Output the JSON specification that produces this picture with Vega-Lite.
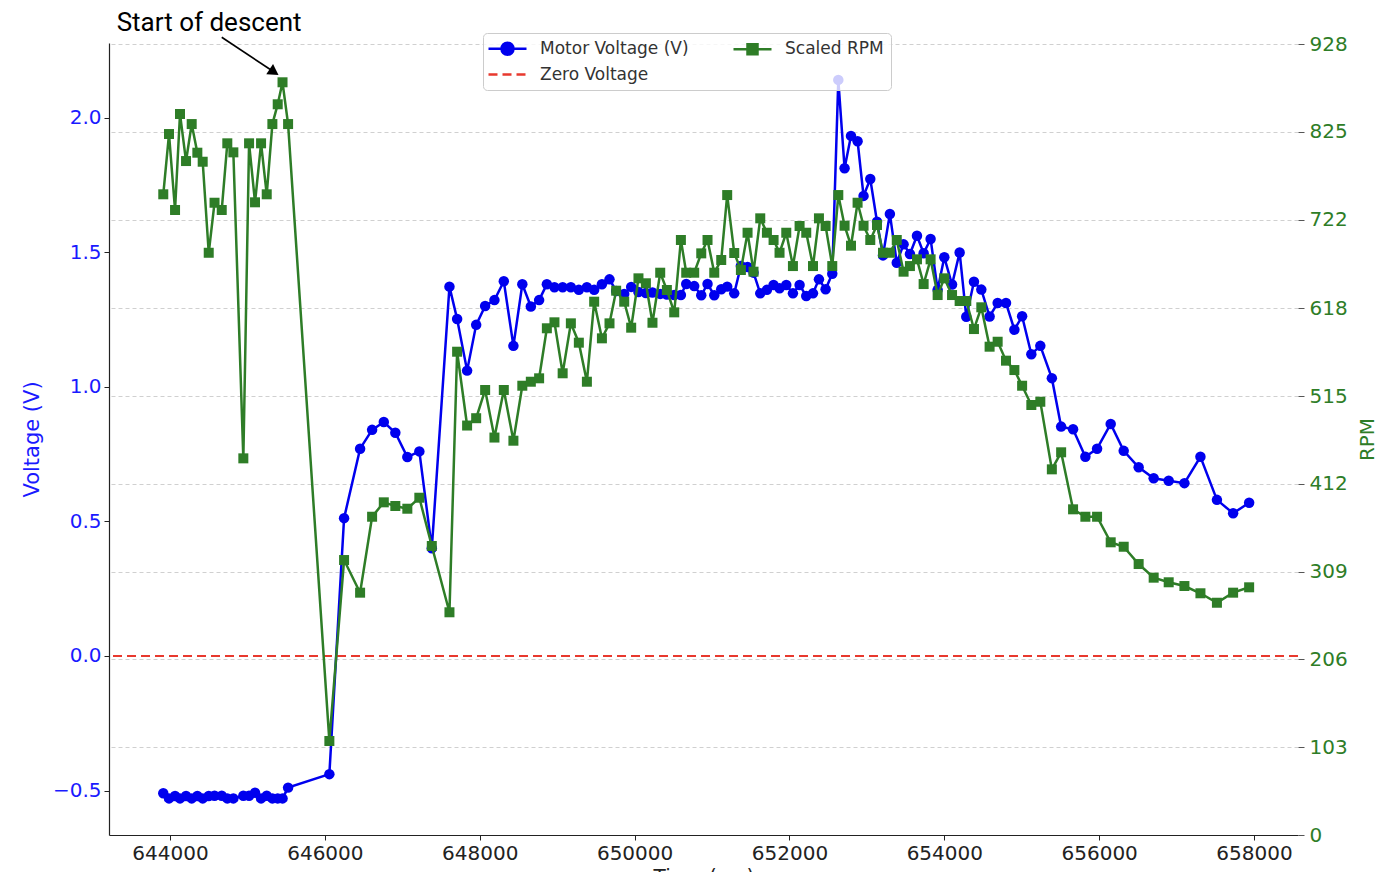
{
  "$schema": "https://vega.github.io/schema/vega-lite/v6.json",
  "autosize": "none",
  "width": 1189,
  "height": 792,
  "padding": {"left": 109, "top": 43, "right": 102, "bottom": 37},
  "background": "white",
  "config": {
    "view": {"stroke": null},
    "font": "DejaVu Sans"
  },
  "datasets": {
    "motor": [
      {"t": 643913, "voltage": -0.510, "rpm": 751.7},
      {"t": 643987, "voltage": -0.529, "rpm": 822.4},
      {"t": 644065, "voltage": -0.520, "rpm": 733.3},
      {"t": 644129, "voltage": -0.529, "rpm": 845.9},
      {"t": 644207, "voltage": -0.520, "rpm": 790.7},
      {"t": 644280, "voltage": -0.529, "rpm": 834.1},
      {"t": 644353, "voltage": -0.520, "rpm": 800.5},
      {"t": 644422, "voltage": -0.529, "rpm": 789.9},
      {"t": 644500, "voltage": -0.520, "rpm": 683.1},
      {"t": 644575, "voltage": -0.519, "rpm": 741.8},
      {"t": 644668, "voltage": -0.519, "rpm": 733.3},
      {"t": 644740, "voltage": -0.529, "rpm": 811.5},
      {"t": 644818, "voltage": -0.529, "rpm": 800.9},
      {"t": 644947, "voltage": -0.519, "rpm": 441.9},
      {"t": 645021, "voltage": -0.519, "rpm": 811.5},
      {"t": 645098, "voltage": -0.508, "rpm": 742.3},
      {"t": 645176, "voltage": -0.529, "rpm": 811.5},
      {"t": 645249, "voltage": -0.519, "rpm": 751.7},
      {"t": 645322, "voltage": -0.529, "rpm": 834.1},
      {"t": 645391, "voltage": -0.529, "rpm": 857.3},
      {"t": 645453, "voltage": -0.529, "rpm": 883.1},
      {"t": 645525, "voltage": -0.489, "rpm": 834.1},
      {"t": 646058, "voltage": -0.439, "rpm": 110.3},
      {"t": 646248, "voltage": 0.512, "rpm": 322.6},
      {"t": 646455, "voltage": 0.770, "rpm": 284.3},
      {"t": 646610, "voltage": 0.840, "rpm": 373.4},
      {"t": 646761, "voltage": 0.869, "rpm": 390.3},
      {"t": 646910, "voltage": 0.829, "rpm": 386.0},
      {"t": 647065, "voltage": 0.739, "rpm": 382.8},
      {"t": 647220, "voltage": 0.760, "rpm": 395.7},
      {"t": 647381, "voltage": 0.400, "rpm": 339.1},
      {"t": 647609, "voltage": 1.372, "rpm": 261.3},
      {"t": 647708, "voltage": 1.252, "rpm": 567.0},
      {"t": 647837, "voltage": 1.060, "rpm": 480.4},
      {"t": 647954, "voltage": 1.230, "rpm": 489.0},
      {"t": 648070, "voltage": 1.300, "rpm": 522.1},
      {"t": 648190, "voltage": 1.322, "rpm": 466.3},
      {"t": 648311, "voltage": 1.392, "rpm": 522.1},
      {"t": 648435, "voltage": 1.152, "rpm": 462.6},
      {"t": 648550, "voltage": 1.381, "rpm": 527.1},
      {"t": 648660, "voltage": 1.298, "rpm": 531.8},
      {"t": 648767, "voltage": 1.322, "rpm": 535.8},
      {"t": 648867, "voltage": 1.381, "rpm": 594.5},
      {"t": 648965, "voltage": 1.370, "rpm": 601.5},
      {"t": 649071, "voltage": 1.370, "rpm": 541.7},
      {"t": 649177, "voltage": 1.370, "rpm": 600.3},
      {"t": 649280, "voltage": 1.360, "rpm": 577.6},
      {"t": 649384, "voltage": 1.370, "rpm": 531.8},
      {"t": 649478, "voltage": 1.360, "rpm": 625.7},
      {"t": 649578, "voltage": 1.381, "rpm": 582.7},
      {"t": 649676, "voltage": 1.399, "rpm": 600.3},
      {"t": 649762, "voltage": 1.356, "rpm": 638.6},
      {"t": 649866, "voltage": 1.345, "rpm": 625.7},
      {"t": 649956, "voltage": 1.371, "rpm": 595.2},
      {"t": 650050, "voltage": 1.352, "rpm": 653.1},
      {"t": 650146, "voltage": 1.348, "rpm": 647.3},
      {"t": 650231, "voltage": 1.350, "rpm": 601.0},
      {"t": 650331, "voltage": 1.345, "rpm": 659.7},
      {"t": 650417, "voltage": 1.343, "rpm": 639.4},
      {"t": 650512, "voltage": 1.341, "rpm": 613.2},
      {"t": 650598, "voltage": 1.341, "rpm": 698.1},
      {"t": 650667, "voltage": 1.382, "rpm": 659.7},
      {"t": 650770, "voltage": 1.374, "rpm": 659.7},
      {"t": 650861, "voltage": 1.340, "rpm": 682.4},
      {"t": 650942, "voltage": 1.382, "rpm": 698.1},
      {"t": 651029, "voltage": 1.340, "rpm": 659.7},
      {"t": 651119, "voltage": 1.362, "rpm": 674.6},
      {"t": 651196, "voltage": 1.372, "rpm": 750.8},
      {"t": 651287, "voltage": 1.347, "rpm": 682.8},
      {"t": 651373, "voltage": 1.449, "rpm": 662.9},
      {"t": 651459, "voltage": 1.445, "rpm": 706.6},
      {"t": 651536, "voltage": 1.424, "rpm": 660.9},
      {"t": 651623, "voltage": 1.347, "rpm": 723.5},
      {"t": 651709, "voltage": 1.360, "rpm": 706.6},
      {"t": 651795, "voltage": 1.378, "rpm": 698.1},
      {"t": 651872, "voltage": 1.366, "rpm": 683.1},
      {"t": 651959, "voltage": 1.378, "rpm": 706.6},
      {"t": 652045, "voltage": 1.347, "rpm": 667.5},
      {"t": 652131, "voltage": 1.378, "rpm": 714.5},
      {"t": 652217, "voltage": 1.337, "rpm": 706.6},
      {"t": 652304, "voltage": 1.347, "rpm": 667.5},
      {"t": 652381, "voltage": 1.399, "rpm": 723.5},
      {"t": 652467, "voltage": 1.362, "rpm": 714.5},
      {"t": 652553, "voltage": 1.420, "rpm": 667.5},
      {"t": 652631, "voltage": 2.140, "rpm": 750.8},
      {"t": 652712, "voltage": 1.812, "rpm": 714.8},
      {"t": 652795, "voltage": 1.932, "rpm": 691.4},
      {"t": 652880, "voltage": 1.912, "rpm": 741.8},
      {"t": 652957, "voltage": 1.709, "rpm": 714.8},
      {"t": 653044, "voltage": 1.772, "rpm": 698.1},
      {"t": 653131, "voltage": 1.613, "rpm": 715.7},
      {"t": 653208, "voltage": 1.488, "rpm": 683.1},
      {"t": 653297, "voltage": 1.642, "rpm": 683.1},
      {"t": 653386, "voltage": 1.461, "rpm": 698.1},
      {"t": 653474, "voltage": 1.529, "rpm": 660.9},
      {"t": 653556, "voltage": 1.493, "rpm": 667.5},
      {"t": 653647, "voltage": 1.561, "rpm": 675.4},
      {"t": 653733, "voltage": 1.496, "rpm": 646.4},
      {"t": 653823, "voltage": 1.549, "rpm": 675.4},
      {"t": 653914, "voltage": 1.360, "rpm": 633.5},
      {"t": 654000, "voltage": 1.481, "rpm": 653.1},
      {"t": 654100, "voltage": 1.380, "rpm": 633.5},
      {"t": 654198, "voltage": 1.499, "rpm": 626.5},
      {"t": 654284, "voltage": 1.260, "rpm": 626.5},
      {"t": 654383, "voltage": 1.390, "rpm": 593.6},
      {"t": 654478, "voltage": 1.361, "rpm": 619.1},
      {"t": 654585, "voltage": 1.261, "rpm": 572.9},
      {"t": 654689, "voltage": 1.311, "rpm": 578.7},
      {"t": 654797, "voltage": 1.311, "rpm": 556.5},
      {"t": 654905, "voltage": 1.212, "rpm": 545.5},
      {"t": 655005, "voltage": 1.262, "rpm": 527.1},
      {"t": 655124, "voltage": 1.121, "rpm": 504.5},
      {"t": 655240, "voltage": 1.152, "rpm": 508.3},
      {"t": 655389, "voltage": 1.032, "rpm": 429.0},
      {"t": 655509, "voltage": 0.852, "rpm": 449.0},
      {"t": 655663, "voltage": 0.842, "rpm": 382.1},
      {"t": 655822, "voltage": 0.740, "rpm": 373.4},
      {"t": 655973, "voltage": 0.770, "rpm": 373.4},
      {"t": 656149, "voltage": 0.862, "rpm": 343.4},
      {"t": 656317, "voltage": 0.762, "rpm": 338.2},
      {"t": 656510, "voltage": 0.701, "rpm": 317.9},
      {"t": 656704, "voltage": 0.660, "rpm": 301.9},
      {"t": 656898, "voltage": 0.651, "rpm": 296.5},
      {"t": 657101, "voltage": 0.642, "rpm": 292.1},
      {"t": 657308, "voltage": 0.740, "rpm": 283.6},
      {"t": 657521, "voltage": 0.580, "rpm": 272.5},
      {"t": 657730, "voltage": 0.530, "rpm": 284.3},
      {"t": 657937, "voltage": 0.569, "rpm": 290.6}
    ],
    "zero": [{"v": 0}],
    "note": [{"t": 644505, "rpm": 943.3, "label": "Start of descent"}],
    "arrow": [{"t": 644668, "rpm": 935.9, "t2": 645344, "rpm2": 895.2}]
  },
  "layer": [
    {
      "layer": [
        {
          "data": {"name": "motor"},
          "mark": {"type": "line", "strokeWidth": 2.5, "point": {"filled": true, "size": 110}},
          "encoding": {
            "x": {"field": "t", "type": "quantitative",
              "scale": {"domain": [643212, 658568], "nice": false, "zero": false},
              "axis": {"title": "Time (ms)", "values": [644000, 646000, 648000, 650000, 652000, 654000, 656000, 658000], "format": "d", "grid": false,
                "labelFont": "DejaVu Sans", "labelFontSize": 20, "labelColor": "#222222", "tickColor": "#222222", "tickSize": 5, "labelPadding": 3,
                "domainColor": "#222222", "domainWidth": 1.2, "titleFont": "DejaVu Sans", "titleFontSize": 20, "titleFontWeight": "normal", "titleColor": "#222222", "titlePadding": 3}},
            "y": {"field": "voltage", "type": "quantitative",
              "scale": {"domain": [-0.665, 2.277], "nice": false, "zero": false},
              "axis": {"title": "Voltage (V)", "orient": "left", "values": [-0.5, 0, 0.5, 1, 1.5, 2], "format": ".1f", "grid": false,
                "labelFont": "DejaVu Sans", "labelFontSize": 20, "labelColor": "#1a1aff", "tickColor": "#222222", "tickSize": 5, "labelPadding": 3,
                "domainColor": "#222222", "domainWidth": 1.2, "titleFont": "DejaVu Sans", "titleFontSize": 21, "titleFontWeight": "normal", "titleColor": "#1a1aff", "titlePadding": 10}},
            "color": {"datum": "Motor Voltage (V)",
              "scale": {"domain": ["Motor Voltage (V)", "Zero Voltage", "Scaled RPM"], "range": ["#0000ee", "#e8392e", "#2e7d27"]},
              "legend": {"orient": "none", "legendX": 374, "legendY": -10, "columns": 2, "title": null,
                "labelFont": "DejaVu Sans", "labelFontSize": 17, "labelColor": "#333333",
                "symbolSize": 144, "symbolStrokeWidth": 2.5, "labelOffset": 33, "columnPadding": 39, "rowPadding": 5, "padding": 7,
                "fillColor": "rgba(255,255,255,0.8)", "strokeColor": "#cccccc", "cornerRadius": 4,
                "encode": {"symbols": {"update": {
                  "shape": {"signal": "datum.value === 'Zero Voltage' ? 'M-1.667,0H-0.167M0.667,0H2.167M3,0H4.5' : datum.value === 'Scaled RPM' ? 'M-1.667,0H4.667M0.667,-0.833H2.333V0.833H0.667Z' : 'M-1.667,0H4.667M0.5,0A1,1,0,1,1,2.5,0A1,1,0,1,1,0.5,0Z'"},
                  "fill": {"signal": "datum.value === 'Zero Voltage' ? 'transparent' : scale('color', datum.value)"},
                  "stroke": {"signal": "scale('color', datum.value)"},
                  "strokeWidth": {"value": 2.5},
                  "opacity": {"value": 1}
                }}}}}
          }
        },
        {
          "data": {"name": "zero"},
          "mark": {"type": "rule", "strokeDash": [9, 5], "strokeWidth": 2},
          "encoding": {
            "y": {"field": "v", "type": "quantitative"},
            "color": {"datum": "Zero Voltage"}
          }
        }
      ]
    },
    {
      "layer": [
        {
          "data": {"name": "motor"},
          "mark": {"type": "line", "strokeWidth": 2.5, "point": {"filled": true, "shape": "square", "size": 100}},
          "encoding": {
            "x": {"field": "t", "type": "quantitative", "axis": {"title": "Time (ms)"}},
            "y": {"field": "rpm", "type": "quantitative",
              "scale": {"domain": [0, 929.2], "nice": false, "zero": false},
              "axis": {"title": "RPM", "orient": "right", "values": [0, 103, 206, 309, 412, 515, 618, 722, 825, 928],
                "grid": true, "gridDash": [4, 3], "gridColor": "#d0d0d0", "gridWidth": 1, "domain": false,
                "labelFont": "DejaVu Sans", "labelFontSize": 20, "labelColor": "#2e7d27", "tickColor": "#555555", "tickSize": 6, "labelPadding": 5,
                "titleFont": "DejaVu Sans", "titleFontSize": 20, "titleFontWeight": "normal", "titleColor": "#2e7d27", "titleAngle": 270, "titlePadding": 30}},
            "color": {"datum": "Scaled RPM"}
          }
        },
        {
          "data": {"name": "note"},
          "mark": {"type": "text", "font": "Roboto", "fontSize": 26, "color": "#000000", "align": "center", "baseline": "alphabetic"},
          "encoding": {
            "x": {"field": "t", "type": "quantitative", "axis": {"title": "Time (ms)"}},
            "y": {"field": "rpm", "type": "quantitative", "axis": {"title": "RPM"}},
            "text": {"field": "label"}
          }
        },
        {
          "data": {"name": "arrow"},
          "mark": {"type": "rule", "color": "#000000", "strokeWidth": 1.6},
          "encoding": {
            "x": {"field": "t", "type": "quantitative", "axis": {"title": "Time (ms)"}},
            "x2": {"field": "t2"},
            "y": {"field": "rpm", "type": "quantitative", "axis": {"title": "RPM"}},
            "y2": {"field": "rpm2"}
          }
        },
        {
          "data": {"name": "arrow"},
          "mark": {"type": "point", "shape": "triangle-right", "filled": true, "color": "#000000", "size": 150, "angle": 33.6, "opacity": 1},
          "encoding": {
            "x": {"field": "t2", "type": "quantitative", "axis": {"title": "Time (ms)"}},
            "y": {"field": "rpm2", "type": "quantitative", "axis": {"title": "RPM"}}
          }
        }
      ]
    }
  ],
  "resolve": {"scale": {"y": "independent"}, "axis": {"y": "independent"}}
}
